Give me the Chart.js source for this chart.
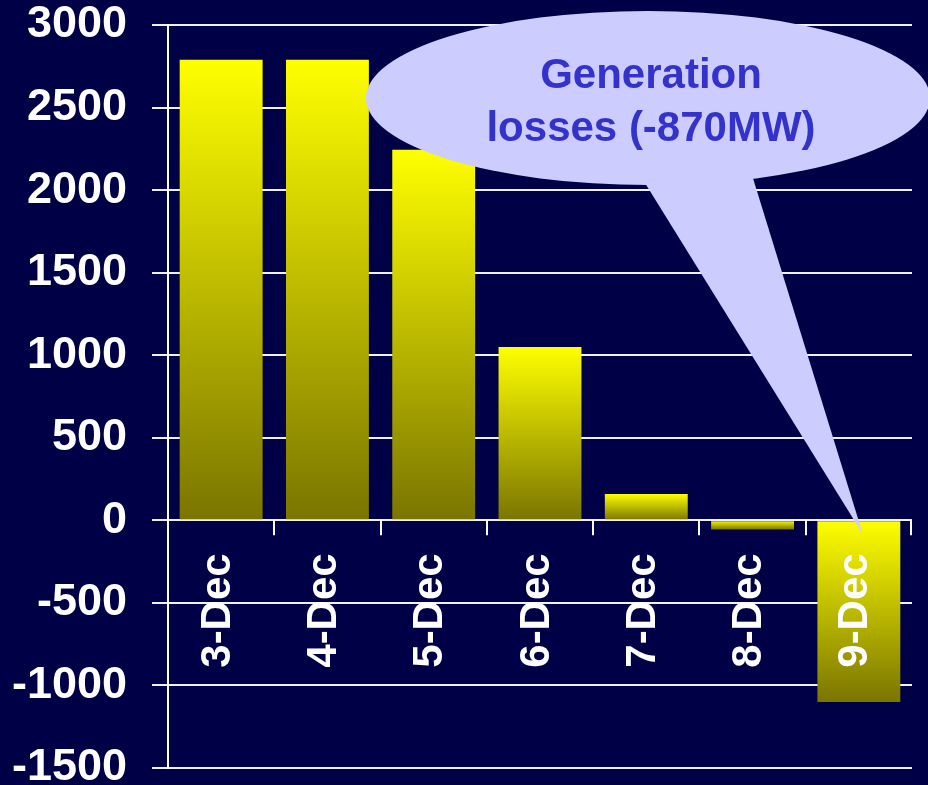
<!DOCTYPE html>
<html>
<head>
<meta charset="utf-8">
<script src="https://cdn.jsdelivr.net/npm/chart.js@4"></script>
<style>
  html, body { margin: 0; padding: 0; background: #000046; }
  #wrap { width: 928px; height: 785px; }
</style>
</head>
<body>
<div id="wrap"><canvas id="c" width="928" height="785"></canvas></div>
<script>
const categories = ['3-Dec', '4-Dec', '5-Dec', '6-Dec', '7-Dec', '8-Dec', '9-Dec'];
const values = [2790, 2790, 2245, 1050, 160, -55, -1100];
const yTickValues = [-1500, -1000, -500, 0, 500, 1000, 1500, 2000, 2500, 3000];
const calloutLines = ['Generation', 'losses (-870MW)'];

const FONT = '"Liberation Sans", Arial, sans-serif';
const TOP_COLOR = '#FFFF00';
const BOTTOM_COLOR = '#7A7500';

function barGradient(ctx) {
  const chart = ctx.chart;
  const y = chart.scales && chart.scales.y;
  if (!y || !chart.chartArea || ctx.dataIndex === undefined) return TOP_COLOR;
  const v = values[ctx.dataIndex];
  const top = y.getPixelForValue(Math.max(v, 0));
  const bottom = y.getPixelForValue(Math.min(v, 0));
  if (!isFinite(top) || !isFinite(bottom) || Math.abs(bottom - top) < 1) return TOP_COLOR;
  const g = chart.ctx.createLinearGradient(0, top, 0, bottom);
  g.addColorStop(0, TOP_COLOR);
  g.addColorStop(1, BOTTOM_COLOR);
  return g;
}

const overlayPlugin = {
  id: 'overlay',
  afterDatasetsDraw(chart) {
    const ctx = chart.ctx;
    const x = chart.scales.x;
    const y = chart.scales.y;
    const zeroY = y.getPixelForValue(0);
    const left = chart.chartArea.left;
    const right = chart.chartArea.right;
    const n = categories.length;
    const step = (right - left) / n;
    ctx.save();
    ctx.strokeStyle = '#FFFFFF';
    ctx.lineWidth = 2;
    for (let k = 1; k <= n; k++) {
      const px = Math.round(left + step * k) - (k === n ? 1 : 0);
      ctx.beginPath();
      ctx.moveTo(px, zeroY);
      ctx.lineTo(px, zeroY + 15);
      ctx.stroke();
    }
    ctx.fillStyle = '#FFFFFF';
    ctx.font = 'bold 42px ' + FONT;
    ctx.textAlign = 'right';
    ctx.textBaseline = 'middle';
    categories.forEach((c, i) => {
      const cx = x.getPixelForValue(i) - 3;
      ctx.save();
      ctx.translate(cx, zeroY + 33);
      ctx.rotate(-Math.PI / 2);
      ctx.fillText(c, 0, 0);
      ctx.restore();
    });
    const tipX = x.getPixelForValue(n - 1) + 4;
    const tipY = zeroY + 14;
    const ex = 648, ey = 98, rx = 282, ry = 87;
    ctx.fillStyle = '#CCCCFF';
    ctx.beginPath();
    ctx.moveTo(640, 175);
    ctx.lineTo(tipX, tipY);
    ctx.lineTo(752, 175);
    ctx.closePath();
    ctx.fill();
    ctx.beginPath();
    ctx.ellipse(ex, ey, rx, ry, 0, 0, Math.PI * 2);
    ctx.fill();
    ctx.fillStyle = '#3333CC';
    ctx.font = 'bold 42px ' + FONT;
    ctx.textAlign = 'center';
    ctx.textBaseline = 'middle';
    ctx.fillText(calloutLines[0], 651, 76);
    ctx.fillText(calloutLines[1], 651, 129);
    ctx.restore();
  }
};

new Chart(document.getElementById('c'), {
  type: 'bar',
  data: {
    labels: categories,
    datasets: [{
      data: values,
      backgroundColor: barGradient,
      borderWidth: 0,
      categoryPercentage: 1.0,
      barPercentage: 0.78
    }]
  },
  options: {
    responsive: false,
    animation: false,
    devicePixelRatio: 1,
    layout: { padding: { left: 0, right: 16, top: 25, bottom: 17 } },
    plugins: { legend: { display: false }, tooltip: { enabled: false } },
    scales: {
      x: {
        display: false,
        offset: true
      },
      y: {
        min: -1500,
        max: 3000,
        afterBuildTicks(scale) {
          scale.ticks = yTickValues.map(v => ({ value: v }));
        },
        afterFit(scale) {
          scale.width = 168;
          scale.paddingTop = 0;
          scale.paddingBottom = 0;
        },
        ticks: {
          color: '#FFFFFF',
          font: { family: FONT, size: 45, weight: 'bold' },
          padding: 25,
          callback: (v) => String(v)
        },
        grid: {
          color: '#F0F0F0',
          lineWidth: 2,
          tickLength: 16,
          drawTicks: true
        },
        border: { display: true, color: '#FFFFFF', width: 2 }
      }
    }
  },
  plugins: [overlayPlugin]
});
</script>
</body>
</html>
